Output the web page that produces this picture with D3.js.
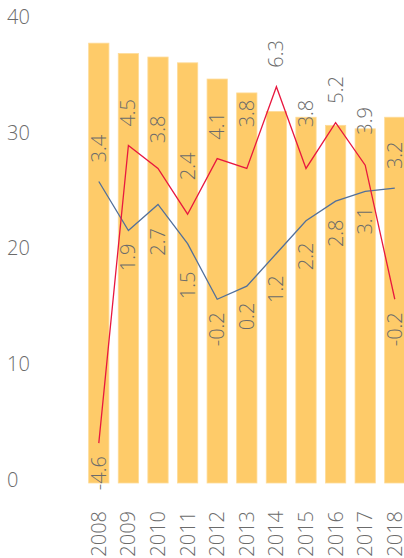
<!DOCTYPE html>
<html>
<head>
<meta charset="utf-8">
<script src="https://cdn.jsdelivr.net/npm/d3@7/dist/d3.min.js"></script>
<style>
  html, body { margin: 0; padding: 0; background: #fff; }
  svg { display: block; }
  text { font-family: "Open Sans", "Lato", sans-serif; font-weight: 300; fill: #6b6b6b; }
</style>
</head>
<body>
<svg id="chart" width="404" height="558"></svg>
<script>
// Years on the category axis
const years = ["2008", "2009", "2010", "2011", "2012", "2013", "2014", "2015", "2016", "2017", "2018"];
// Bar series (left axis)
const barValues = [38.0, 37.1, 36.8, 36.3, 34.9, 33.7, 32.1, 31.6, 30.9, 30.6, 31.6];
// Line series (secondary, unlabelled axis)
const redValues = [-4.6, 4.5, 3.8, 2.4, 4.1, 3.8, 6.3, 3.8, 5.2, 3.9, -0.2];
const blueValues = [3.4, 1.9, 2.7, 1.5, -0.2, 0.2, 1.2, 2.2, 2.8, 3.1, 3.2];
// Left axis tick labels
const yTicks = [0, 10, 20, 30, 40];

const svg = d3.select("#chart");
const fontSize = 20;
const fmt = v => d3.format(".1f")(v).replace("\u2212", "-");

const x = d3.scaleBand().domain(years).range([84, 409.6]).paddingInner(0.315).paddingOuter(0.1575);
const y = d3.scaleLinear().domain([0, 40]).range([483, 20]);
const y2 = d3.scaleLinear().domain([-5.82, 8.34]).range([483, 20]);
const cx = d => x(d) + x.bandwidth() / 2;

// Left axis: labels only, no line or ticks
const yAxis = d3.axisLeft(y).tickValues(yTicks).tickSize(0).tickPadding(0).tickFormat(d3.format("d"));
const gy = svg.append("g").attr("transform", "translate(7,-3)").call(yAxis);
gy.select(".domain").remove();
gy.selectAll("text")
  .attr("text-anchor", "start")
  .attr("x", 0)
  .style("font-size", fontSize + "px")
  .attr("fill", null);
gy.attr("font-family", null).attr("font-size", null);

// Bars
svg.append("g").selectAll("rect")
  .data(years)
  .join("rect")
  .attr("x", d => x(d))
  .attr("width", x.bandwidth())
  .attr("y", (d, i) => y(barValues[i]))
  .attr("height", (d, i) => y(0) - y(barValues[i]))
  .attr("fill", "#fecb69")
  .attr("stroke", "#fedb98")
  .attr("stroke-width", 0.8);

// Lines
const series = [
  { values: blueValues, color: "#52709b" },
  { values: redValues, color: "#e8183f" }
];
const line = d3.line().x((v, i) => cx(years[i])).y(v => y2(v));
series.forEach(s => {
  svg.append("path")
    .datum(s.values)
    .attr("d", line)
    .attr("fill", "none")
    .attr("stroke", s.color)
    .attr("stroke-width", 1.3);
});

// Line value labels: the upper series at each year is labelled above, the lower one below,
// clear of the line segments that pass under the rotated label.
const step = x.step();
const halfW = 8;
function yAt(vals, i, dx) {
  const j = dx < 0 ? i - 1 : i + 1;
  const yi = y2(vals[i]);
  if (j < 0 || j >= vals.length) return yi;
  return yi + (y2(vals[j]) - yi) * (Math.abs(dx) / step);
}
const labels = [];
years.forEach((yr, i) => {
  const a = y2(blueValues[i]), b = y2(redValues[i]);
  const upper = a < b ? blueValues : redValues;
  const lower = a < b ? redValues : blueValues;
  const upY = Math.min(y2(upper[i]), yAt(upper, i, -halfW), yAt(upper, i, halfW));
  const loY = Math.max(y2(lower[i]), yAt(lower, i, -halfW), yAt(lower, i, halfW));
  labels.push({ x: cx(yr), y: upY - 19, anchor: "start", v: upper[i] });
  labels.push({ x: cx(yr), y: loY + 13, anchor: "end", v: lower[i] });
});
svg.append("g").selectAll("text")
  .data(labels)
  .join("text")
  .attr("transform", d => `translate(${d.x},${d.y}) rotate(-90)`)
  .attr("dy", "0.35em")
  .attr("text-anchor", d => d.anchor)
  .style("font-size", fontSize + "px")
  .text(d => fmt(d.v));

// Year labels along the bottom
svg.append("g").selectAll("text")
  .data(years)
  .join("text")
  .attr("transform", d => `translate(${cx(d)},511) rotate(-90)`)
  .attr("dy", "0.35em")
  .attr("text-anchor", "end")
  .style("font-size", fontSize + "px")
  .text(d => d);
</script>
</body>
</html>
